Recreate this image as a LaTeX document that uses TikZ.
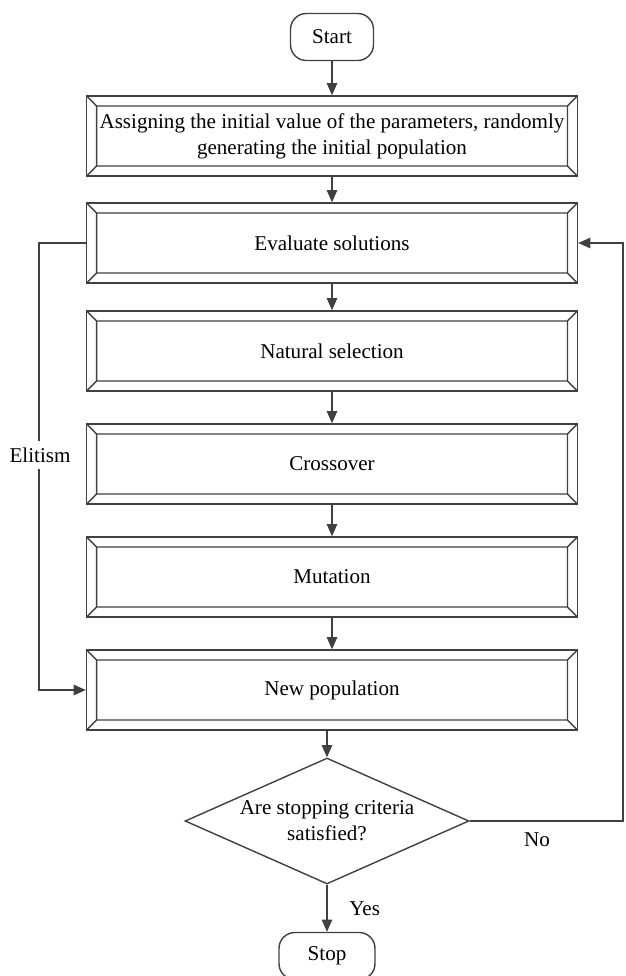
\documentclass[tikz,border=0pt]{standalone}
\usepackage{fontspec}
\setmainfont{Liberation Serif}
\usetikzlibrary{positioning,arrows.meta,shapes.geometric}

\tikzset{
  line/.style={draw=black!75,line width=0.8pt},
  arr/.style={line,-{Triangle[length=7pt,width=6pt]}},
  txt/.style={font=\fontsize{12}{14.8}\selectfont},
  term/.style={line,txt,rounded corners=9pt,minimum height=0.94cm},
  bevel/.style={line,txt,minimum width=9.82cm,minimum height=1.6cm,align=center,
    path picture={
      \draw[black!75,line width=0.8pt]
        ([shift={(0.2cm,-0.2cm)}]path picture bounding box.north west) rectangle
        ([shift={(-0.2cm,0.2cm)}]path picture bounding box.south east)
        (path picture bounding box.north west) -- ++(0.2cm,-0.2cm)
        (path picture bounding box.north east) -- ++(-0.2cm,-0.2cm)
        (path picture bounding box.south west) -- ++(0.2cm,0.2cm)
        (path picture bounding box.south east) -- ++(-0.2cm,0.2cm);
    }},
  test/.style={line,txt,diamond,align=center,shape aspect=2.25,inner sep=-1.5pt,
    minimum width=5.68cm,minimum height=2.52cm}
}

\begin{document}
\begin{tikzpicture}[x=0.02cm,y=-0.02cm]
  \useasboundingbox (0,0) rectangle (625,976);
  % main column
  \node[term,minimum width=1.66cm] (start) at (332,37) {Start};
  \node[bevel] (init) at (332,136) {Assigning the initial value of the parameters, randomly\\generating the initial population};
  \node[bevel] (eval) at (332,243) {Evaluate solutions};
  \node[bevel] (sel) at (332,351) {Natural selection};
  \node[bevel] (cross) at (332,464) {Crossover};
  \node[bevel] (mut) at (332,577) {Mutation};
  \node[bevel] (newpop) at (332,690) {New population};
  \node[test] (stopq) at (327,821) {Are stopping criteria\\satisfied?};
  \node[term,minimum width=1.92cm] (stop) at (327,956) {Stop};
  \coordinate (back) at (623,821);

  \draw[arr] (start) -- (init);
  \draw[arr] (init) -- (eval);
  \draw[arr] (eval) -- (sel);
  \draw[arr] (sel) -- (cross);
  \draw[arr] (cross) -- (mut);
  \draw[arr] (mut) -- (newpop);
  \draw[arr] (stopq.north |- newpop.south) -- (stopq);
  \draw[arr] (stopq) -- (stop) node[txt,midway,right=9pt] (yes) {Yes};
  % elitism and loop back
  \draw[arr] (eval.west) -- ++(-47,0) |- (newpop.west);
  \node[txt,fill=white,inner xsep=0pt,inner ysep=4pt] (elit) at (40,455) {Elitism};
  \draw[arr] (stopq.east) -- (back) |- (eval.east);
  \node[txt] (no) at (537,840) {No};
\end{tikzpicture}
\end{document}
